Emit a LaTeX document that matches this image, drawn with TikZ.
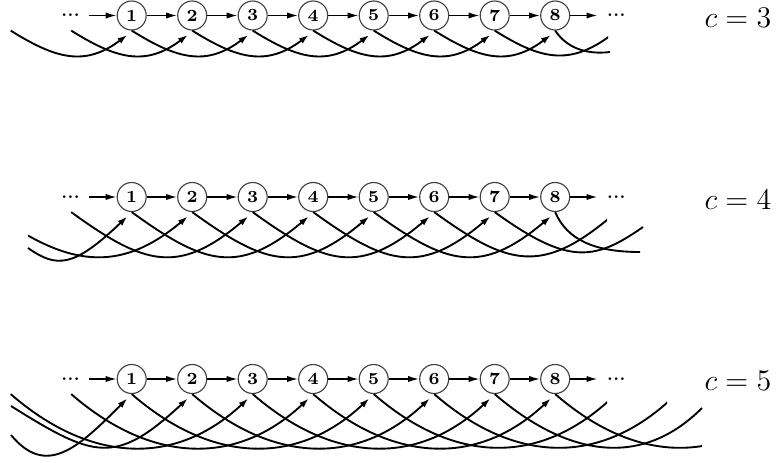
\documentclass[tikz,border=0pt]{standalone}
\usepackage{fontspec}
\usetikzlibrary{arrows.meta,calc}
\begin{document}
\begin{tikzpicture}[x=0.4pt,y=0.4pt,
  nd/.style={circle,draw=black!75,line width=0.45pt,minimum size=11.6pt,inner sep=0pt,font=\fontsize{6.8}{8}\selectfont\bfseries},
  dt/.style={inner sep=3.5pt,font=\fontsize{6.4}{8}\selectfont\bfseries},
  harr/.style={line width=0.6pt,-{Latex[length=4.4pt,width=2.5pt]}},
  arcline/.style={line width=0.75pt},
  arcarr/.style={arcline,-{Latex[length=3.9pt,width=2.6pt]}},
  aone/.style={out=-32,in=-143,out distance=21.2pt,in distance=21.2pt},
  atwo/.style={out=-36,in=-140,out distance=36.4pt,in distance=36.4pt},
  athree/.style={out=-41,in=-137,out distance=41pt,in distance=41pt},
  lab/.style={anchor=base west,inner sep=0pt,font=\fontsize{12.5}{15}\selectfont}]
\path[use as bounding box] (0,0) rectangle (780,-462);

% ---------------- row 1 : c = 3 ----------------
\foreach \k in {1,...,8} \node[nd] (r1n\k) at ({131.7+60.5*(\k-1)},-15.5) {\k};
\node[dt] (r1dl) at (70.5,-15.5) {...};
\node[dt] (r1dr) at (616.2,-15.5) {...};
\coordinate (r1p9) at (615.7,-15.5);
\coordinate (r1sm1) at (10.7,-30.6);
\coordinate (r1s0) at (71.2,-30.6);
\coordinate (r1e8) at (610,-52);
\draw[harr] (r1dl) -- (r1n1);
\foreach \a/\b in {1/2,2/3,3/4,4/5,5/6,6/7,7/8} \draw[harr] (r1n\a) -- (r1n\b);
\draw[harr] (r1n8) -- (r1dr);
\draw[arcarr] (r1sm1) to[aone] ($(r1n1)+(-4.5,-19.5)$);
\draw[arcarr] (r1s0) to[aone] ($(r1n2)+(-4.5,-19.5)$);
\foreach \a/\b in {1/3,2/4,3/5,4/6,5/7,6/8}
  \draw[arcarr] (r1n\a.south) to[aone] ($(r1n\b)+(-4.5,-19.5)$);
\begin{scope}
  \clip (0,0) rectangle (608,-462);
  \draw[arcline] (r1n7.south) to[aone] ($(r1p9)+(-4.5,-19.5)$);
\end{scope}
\draw[arcline] (r1n8.south) .. controls (566,-47) and (585,-55) .. (r1e8);
\node[lab] (r1lab) at (704,-27) {$c=3$};

% ---------------- row 2 : c = 4 ----------------
\foreach \k in {1,...,8} \node[nd] (r2n\k) at ({131.7+60.5*(\k-1)},-197) {\k};
\node[dt] (r2dl) at (70.5,-197) {...};
\node[dt] (r2dr) at (616.2,-197) {...};
\coordinate (r2p9) at (615.7,-197);
\coordinate (r2s0) at (71.2,-212.1);
\coordinate (r2sm1) at (-8,-212.1);
\coordinate (r2sm2) at (28,-248);
\coordinate (r2e7) at (643,-227);
\coordinate (r2e8) at (640,-252);
\draw[harr] (r2dl) -- (r2n1);
\foreach \a/\b in {1/2,2/3,3/4,4/5,5/6,6/7,7/8} \draw[harr] (r2n\a) -- (r2n\b);
\draw[harr] (r2n8) -- (r2dr);
\draw[arcarr] (r2s0) to[atwo] ($(r2n3)+(-4.5,-19.5)$);
\foreach \a/\b in {1/4,2/5,3/6,4/7,5/8}
  \draw[arcarr] (r2n\a.south) to[atwo] ($(r2n\b)+(-4.5,-19.5)$);
\begin{scope}
  \clip (28,0) rectangle (780,-462);
  \draw[arcarr] (r2sm1) to[atwo] ($(r2n2)+(-4.5,-19.5)$);
\end{scope}
\draw[arcarr] (r2sm2) .. controls (56.6,-268) and (73.4,-268) .. ($(r2n1)+(-4.5,-19.5)$);
\begin{scope}
  \clip (0,0) rectangle (607,-462);
  \draw[arcline] (r2n6.south) to[atwo] ($(r2p9)+(-4.5,-19.5)$);
\end{scope}
\draw[arcline] (r2n7.south) .. controls (567.8,-264.9) and (593.9,-261.4) .. (r2e7);
\draw[arcline] (r2n8.south) .. controls (567,-240) and (595,-252) .. (r2e8);
\node[lab] (r2lab) at (704,-209) {$c=4$};

% ---------------- row 3 : c = 5 ----------------
\foreach \k in {1,...,8} \node[nd] (r3n\k) at ({131.7+60.5*(\k-1)},-379) {\k};
\node[dt] (r3dl) at (70.5,-379) {...};
\node[dt] (r3dr) at (616.2,-379) {...};
\coordinate (r3p9) at (615.7,-379);
\coordinate (r3p10) at (676.2,-379);
\coordinate (r3p12) at (797.2,-379);
\coordinate (r3sm1) at (10.7,-394.1);
\coordinate (r3s0) at (71.2,-394.1);
\coordinate (r3sb) at (11,-406);
\coordinate (r3sc) at (11,-435);
\coordinate (r3e7) at (702,-408);
\draw[harr] (r3dl) -- (r3n1);
\foreach \a/\b in {1/2,2/3,3/4,4/5,5/6,6/7,7/8} \draw[harr] (r3n\a) -- (r3n\b);
\draw[harr] (r3n8) -- (r3dr);
\draw[arcarr] (r3sm1) to[athree] ($(r3n3)+(-4.5,-19.5)$);
\draw[arcarr] (r3s0) to[athree] ($(r3n4)+(-4.5,-19.5)$);
\foreach \a/\b in {1/5,2/6,3/7,4/8}
  \draw[arcarr] (r3n\a.south) to[athree] ($(r3n\b)+(-4.5,-19.5)$);
\draw[arcarr] (r3sb) .. controls (94,-458) and (115.3,-465.8) .. ($(r3n2)+(-4.5,-19.5)$);
\draw[arcarr] (r3sc) .. controls (46.2,-477.4) and (77.5,-448.5) .. ($(r3n1)+(-4.5,-19.5)$);
\begin{scope}
  \clip (0,0) rectangle (607,-462);
  \draw[arcline] (r3n5.south) to[athree] ($(r3p9)+(-4.5,-19.5)$);
\end{scope}
\begin{scope}
  \clip (0,0) rectangle (667,-462);
  \draw[arcline] (r3n6.south) to[athree] ($(r3p10)+(-4.5,-19.5)$);
\end{scope}
\begin{scope}
  \clip (0,0) rectangle (702,-462);
  \draw[arcline] (r3n8.south) to[athree] ($(r3p12)+(-4.5,-19.5)$);
\end{scope}
\draw[arcline] (r3n7.south) .. controls (563,-453) and (638.4,-471.6) .. (r3e7);
\node[lab] (r3lab) at (704,-390) {$c=5$};
\end{tikzpicture}
\end{document}
